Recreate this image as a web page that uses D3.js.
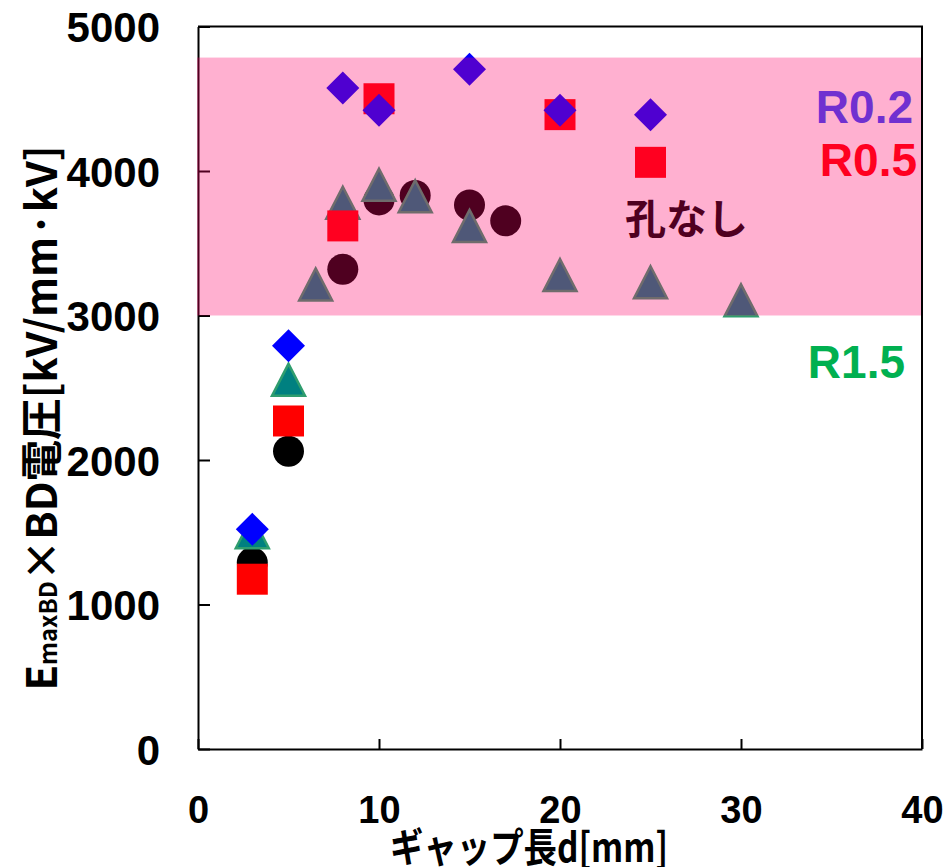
<!DOCTYPE html>
<html>
<head>
<meta charset="utf-8">
<script src="https://cdn.jsdelivr.net/npm/d3@7"></script>
<style>
  html, body { margin: 0; padding: 0; background: #fff; }
  svg { display: block; }
</style>
</head>
<body>
<script>
// Gap length d [mm] and Emax×BD voltage [kV/mm·kV] for each electrode type
const gapNoHole = [3, 5, 8, 10, 12, 15, 17];
const valNoHole = [1290, 2060, 3320, 3800, 3830, 3765, 3655];

const gapR05 = [3, 5, 8, 10, 20, 25];
const valR05 = [1175, 2270, 3620, 4500, 4390, 4060];

const gapR02 = [3, 5, 8, 10, 15, 20, 25];
const valR02 = [1520, 2790, 4575, 4420, 4705, 4420, 4390];

const gapR15 = [3, 5, 6.5, 8, 10, 12, 15, 20, 25, 30];
const valR15 = [1500, 2555, 3215, 3780, 3905, 3825, 3620, 3280, 3230, 3105];

// Shaded range of the product
const bandRange = [3000, 4785];

const xTicks = [0, 10, 20, 30, 40];
const yTicks = [0, 1000, 2000, 3000, 4000, 5000];

const W = 947, H = 867;
const svg = d3.select("body").append("svg").attr("width", W).attr("height", H);

const x = d3.scaleLinear().domain([0, 40]).range([198, 922]);
const y = d3.scaleLinear().domain([0, 5000]).range([749, 26.5]);

const latin = "'Liberation Sans', Arial, sans-serif";
const cjk = "'Noto Sans CJK JP', 'Noto Sans CJK SC', sans-serif";

// Axes with inward ticks
const yAxis = svg.append("g")
  .attr("transform", `translate(${x(0)},0)`)
  .call(d3.axisLeft(y).tickValues(yTicks).tickSize(-12).tickSizeOuter(0).tickPadding(38).tickFormat(d3.format("d")));
const xAxis = svg.append("g")
  .attr("transform", `translate(0,${y(0)})`)
  .call(d3.axisBottom(x).tickValues(xTicks).tickSize(-10).tickSizeOuter(0).tickPadding(47).tickFormat(d3.format("d")));

[yAxis, xAxis].forEach(g => {
  g.select(".domain").attr("stroke", "#000").attr("stroke-width", 2);
  g.selectAll(".tick line").attr("stroke", "#000").attr("stroke-width", 2);
  g.selectAll(".tick text").attr("fill", "#000").attr("font-family", latin).attr("font-weight", "bold");
});
yAxis.selectAll(".tick text").attr("font-size", 42).attr("dy", "0.36em");
xAxis.selectAll(".tick text").attr("font-size", 38);

// Top and right frame
svg.append("path")
  .attr("d", `M${x(0)},${y(5000)}H${x(40)}V${y(0)}`)
  .attr("fill", "none").attr("stroke", "#000").attr("stroke-width", 2);

// Labels sitting beneath the shaded band
svg.append("text")
  .attr("x", 625).attr("y", 234)
  .attr("font-family", cjk).attr("font-weight", "bold").attr("font-size", 41)
  .attr("fill", "#000").text("孔なし");
svg.append("text")
  .attr("x", 917).attr("y", 176).attr("text-anchor", "end")
  .attr("font-family", latin).attr("font-weight", "bold").attr("font-size", 46)
  .attr("fill", "#FF0000").text("R0.5");

// Marker shapes, centred on their bounding box
const circlePath = "M15.5,0A15.5,15.5 0 1,1 -15.5,0A15.5,15.5 0 1,1 15.5,0Z";
const squarePath = "M-15.5,-15.5H15.5V15.5H-15.5Z";
const diamondPath = "M0,-16.5L16.5,0L0,16.5L-16.5,0Z";
const trianglePath = "M0,-16L16.5,16H-16.5Z";

function plotSeries(gaps, vals, path, fill, stroke, sw) {
  svg.append("g").selectAll("path")
    .data(gaps.map((g, i) => ({ g, v: vals[i] })))
    .join("path")
    .attr("transform", d => `translate(${x(d.g)},${y(d.v)})`)
    .attr("d", path)
    .attr("fill", fill)
    .attr("stroke", stroke)
    .attr("stroke-width", sw);
}

plotSeries(gapNoHole, valNoHole, circlePath, "#000000", "none", 0);
plotSeries(gapR15, valR15, trianglePath, "#008080", "#2F9D6E", 2.5);
plotSeries(gapR05, valR05, squarePath, "#FF0000", "none", 0);
plotSeries(gapR02, valR02, diamondPath, "#0000FF", "none", 0);

// Translucent band laid over the markers
svg.append("rect")
  .attr("x", x(0) - 1)
  .attr("width", x(40) - x(0))
  .attr("y", y(bandRange[1]))
  .attr("height", y(bandRange[0]) - y(bandRange[1]))
  .attr("fill", "rgb(255,0,103)")
  .attr("fill-opacity", 0.31);

// Labels drawn above the band
svg.append("text")
  .attr("x", 913).attr("y", 123).attr("text-anchor", "end")
  .attr("font-family", latin).attr("font-weight", "bold").attr("font-size", 46)
  .attr("fill", "#7030D0").text("R0.2");
svg.append("text")
  .attr("x", 905).attr("y", 378).attr("text-anchor", "end")
  .attr("font-family", latin).attr("font-weight", "bold").attr("font-size", 46)
  .attr("fill", "#00B050").text("R1.5");

// Axis titles
svg.append("text")
  .attr("x", 529).attr("y", 862).attr("text-anchor", "middle")
  .attr("font-family", cjk).attr("font-weight", "bold").attr("font-size", 40)
  .attr("textLength", 278).attr("lengthAdjust", "spacingAndGlyphs")
  .attr("fill", "#000").text("ギャップ長d[mm]");

const yTitle = svg.append("text")
  .attr("transform", "translate(57,418) rotate(-90)")
  .attr("text-anchor", "middle")
  .attr("font-family", cjk).attr("font-weight", "bold").attr("font-size", 42)
  .attr("textLength", 545).attr("lengthAdjust", "spacingAndGlyphs")
  .attr("fill", "#000");
yTitle.append("tspan").text("E");
yTitle.append("tspan").attr("font-size", 24).text("maxBD");
yTitle.append("tspan").text("×BD電圧[kV/mm·kV]");
</script>
</body>
</html>
